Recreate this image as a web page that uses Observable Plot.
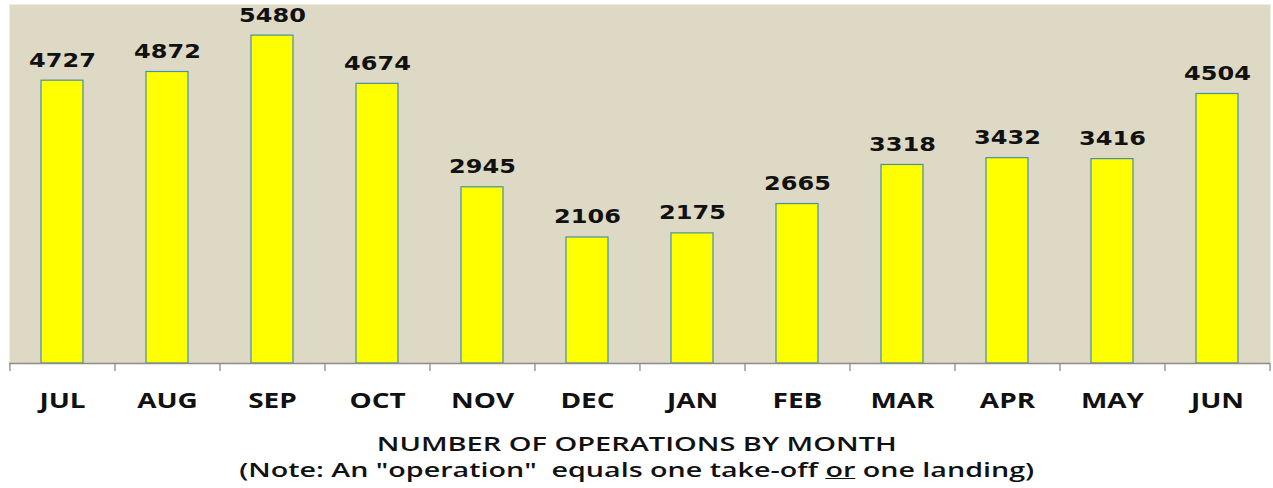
<!DOCTYPE html>
<html>
<head>
<meta charset="utf-8">
<script src="https://cdn.jsdelivr.net/npm/d3@7"></script>
<script src="https://cdn.jsdelivr.net/npm/@observablehq/plot@0.6"></script>
<style>
  html, body { margin: 0; padding: 0; background: #ffffff; }
  #chart svg { display: block; }
  #caption { width: 1273px; text-align: center; padding-top: 11px; font-family: "Open Sans", sans-serif; font-weight: 600; font-size: 19px; line-height: 26px; color: #111; }
  #caption span { display: inline-block; white-space: nowrap; transform-origin: center; }
</style>
</head>
<body>
<div id="chart"></div>
<div id="caption">
  <div><span id="cap1">NUMBER OF OPERATIONS BY MONTH</span></div>
  <div><span id="cap2">(Note: An "operation"&nbsp; equals one take-off <u>or</u> one landing)</span></div>
</div>
<script>
const months = ["JUL","AUG","SEP","OCT","NOV","DEC","JAN","FEB","MAR","APR","MAY","JUN"];
const operations = [4727,4872,5480,4674,2945,2106,2175,2665,3318,3432,3416,4504];

const data = months.map((m, i) => ({month: m, ops: operations[i]}));

const W = 1273, H = 420, mL = 9, mR = 3, mT = 4, mB = 57;
const step = (W - mL - mR) / months.length;

const plot = Plot.plot({
  width: W,
  height: H,
  marginLeft: mL,
  marginRight: mR,
  marginTop: mT,
  marginBottom: mB,
  style: {background: "#ffffff"},
  x: {domain: months, paddingInner: 0.6, paddingOuter: 0.3, align: 0.5, label: null},
  y: {domain: [0, 6000], axis: null},
  marks: [
    Plot.frame({fill: "#ddd9c4", stroke: null}),
    Plot.barY(data, {x: "month", y: "ops", fill: "#ffff00", stroke: "#4b8ea6", strokeWidth: 1.2}),
    Plot.ruleY([0], {stroke: "#8c8c8c", strokeWidth: 1.3}),
    Plot.ruleX(months, {x: d => d, y1: 0, y2: 0, dx: -step / 2, insetBottom: -8, stroke: "#8c8c8c", strokeWidth: 1.3}),
    Plot.ruleX(months.slice(-1), {x: d => d, y1: 0, y2: 0, dx: step / 2, insetBottom: -8, stroke: "#8c8c8c", strokeWidth: 1.3}),
    Plot.text(data, {x: "month", y: "ops", text: d => String(d.ops), lineAnchor: "bottom", dy: -14,
      fontSize: 20, fontWeight: "bold", fontFamily: "DejaVu Sans", fill: "#111111", className: "vals"}),
    Plot.axisX({tickSize: 0, tickPadding: 30, fontSize: 21, fontWeight: "bold", fontFamily: "Open Sans",
      fill: "#111111", label: null, className: "xlabs"})
  ]
});
document.getElementById("chart").append(plot);

function stretch(selector, f) {
  plot.querySelectorAll(selector).forEach(t => {
    const w = t.getComputedTextLength();
    t.setAttribute("textLength", (w * f).toFixed(1));
    t.setAttribute("lengthAdjust", "spacingAndGlyphs");
  });
}
stretch(".vals text", 1.2);
stretch(".xlabs text", 1.33);

function fitSpan(id, target) {
  const s = document.getElementById(id);
  const w = s.getBoundingClientRect().width;
  s.style.transform = `scaleX(${target / w})`;
}
fitSpan("cap1", 520);
fitSpan("cap2", 795);
</script>
</body>
</html>
